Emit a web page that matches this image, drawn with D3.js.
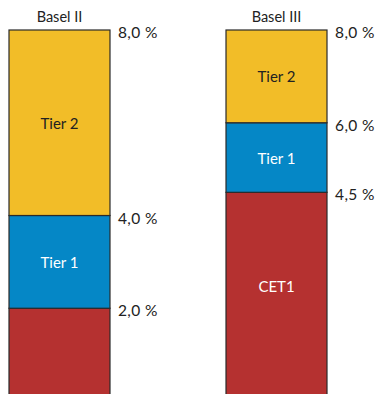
<!DOCTYPE html>
<html>
<head>
<meta charset="utf-8">
<script src="https://cdn.jsdelivr.net/npm/d3@7"></script>
<style>
  html, body { margin: 0; padding: 0; background: #fff; }
  svg { display: block; }
  text { font-family: Lato, "Open Sans", sans-serif; }
</style>
</head>
<body>
<svg id="chart" width="379" height="394"></svg>
<script>
// Capital requirements under each framework (% of risk-weighted assets)
const frameworks = ["Basel II", "Basel III"];
const components = ["CET1", "Tier 1", "Tier 2"];
const baselII = [2.0, 2.0, 4.0];
const baselIII = [4.5, 1.5, 2.0];
const segmentLabels = {
  "Basel II": ["", "Tier 1", "Tier 2"],
  "Basel III": ["CET1", "Tier 1", "Tier 2"]
};
const tickLabels = {
  "Basel II": ["2,0 %", "4,0 %", "8,0 %"],
  "Basel III": ["4,5 %", "6,0 %", "8,0 %"]
};
const colors = ["#b53130", "#0587c6", "#f2bd28"];
const textColors = ["#ffffff", "#ffffff", "#222222"];

const W = 379, H = 394;
const svg = d3.select("#chart");

const rows = frameworks.map((f, i) => {
  const vals = i === 0 ? baselII : baselIII;
  const row = { framework: f };
  components.forEach((c, j) => row[c] = vals[j]);
  return row;
});

const stack = d3.stack().keys(components)(rows);

const x = d3.scaleBand().domain(frameworks).range([9, 327]).paddingInner(0.5346).paddingOuter(0);
const y = d3.scaleLinear().domain([0, 8]).range([401, 30]);

// Stacked segments
const layers = svg.append("g").selectAll("g")
  .data(stack).join("g")
  .attr("fill", (d, i) => colors[i]);

layers.selectAll("rect")
  .data(d => d.map(s => ({ s, key: d.key, idx: d.index })))
  .join("rect")
  .attr("x", d => x(d.s.data.framework))
  .attr("y", d => y(d.s[1]))
  .attr("width", x.bandwidth())
  .attr("height", d => y(d.s[0]) - y(d.s[1]))
  .attr("stroke", "#2a2a2a")
  .attr("stroke-width", 1.2);

// Segment labels
stack.forEach((layer, i) => {
  layer.forEach(s => {
    const f = s.data.framework;
    const label = segmentLabels[f][i];
    if (!label) return;
    const top = y(s[1]);
    const bottom = Math.min(y(s[0]), H - 14);
    svg.append("text")
      .attr("x", x(f) + x.bandwidth() / 2)
      .attr("y", (top + bottom) / 2)
      .attr("text-anchor", "middle")
      .attr("dominant-baseline", "central")
      .attr("font-size", 15)
      .attr("fill", textColors[i])
      .text(label);
  });
});

// Cumulative level labels to the right of each bar
rows.forEach(r => {
  const f = r.framework;
  const cum = d3.cumsum(components.map(c => r[c]));
  cum.forEach((v, k) => {
    svg.append("text")
      .attr("x", x(f) + x.bandwidth() + 8)
      .attr("y", y(v) + 2)
      .attr("dominant-baseline", "central")
      .attr("font-size", 15.5)
      .attr("fill", "#222")
      .attr("letter-spacing", 0.4)
      .text(tickLabels[f][k]);
  });
  // Framework title
  svg.append("text")
    .attr("x", x(f) + x.bandwidth() / 2)
    .attr("y", 22)
    .attr("text-anchor", "middle")
    .attr("font-size", 14.5)
    .attr("fill", "#222")
    .text(f);
});
</script>
</body>
</html>
